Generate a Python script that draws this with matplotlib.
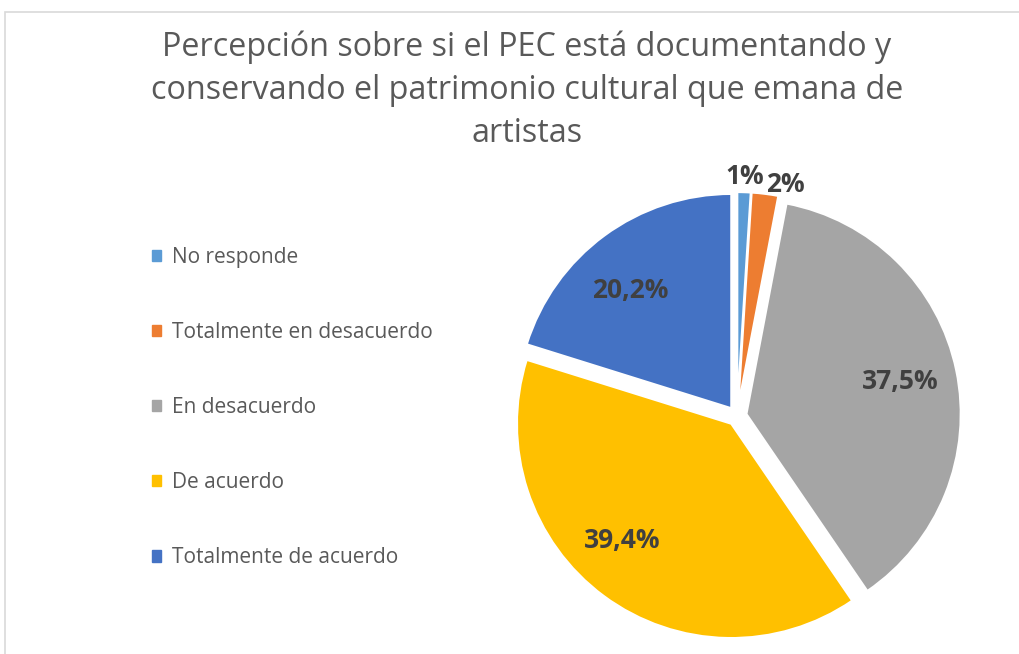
import numpy as np
import matplotlib.pyplot as plt
from matplotlib.patches import Rectangle

categories = ["No responde", "Totalmente en desacuerdo", "En desacuerdo",
              "De acuerdo", "Totalmente de acuerdo"]
values = [1.0, 2.0, 37.5, 39.4, 20.2]
pct_labels = ["1%", "2%", "37,5%", "39,4%", "20,2%"]
colors = ["#5B9BD5", "#ED7D31", "#A5A5A5", "#FFC000", "#4472C4"]
title = ("Percepción sobre si el PEC está documentando y\n"
         "conservando el patrimonio cultural que emana de\nartistas")

plt.rcParams['font.family'] = ['Open Sans', 'DejaVu Sans']

W, H = 1019, 654
fig = plt.figure(figsize=(W / 100, H / 100), dpi=100)

# chart border (light gray, cut by image edges)
fig.patches.append(Rectangle((5 / W, -0.1), 1.2, 1 - 12 / H + 0.1,
                             transform=fig.transFigure, fill=False,
                             edgecolor="#D9D9D9", linewidth=1.2))

fig.text(527 / W, 1 - 90 / H, title, ha="center", va="center",
         fontsize=23.3, color="#595959", linespacing=1.4)

# pie
side = 480
cx, cy = 737, 416
ax = fig.add_axes([(cx - side / 2) / W, 1 - (cy + side / 2) / H, side / W, side / H])
lim = 1.12
explode = [0.045] * len(values)
wedges, _ = ax.pie(values, colors=colors, startangle=90, counterclock=False,
                   explode=explode, wedgeprops=dict(edgecolor="white", linewidth=1.5),
                   frame=True)
ax.set_xlim(-lim, lim)
ax.set_ylim(-lim, lim)
ax.set_aspect("equal")
ax.axis("off")

label_r = [1.12, 1.09, 0.78, 0.79, 0.77]
label_ha = ["center", "left", "center", "center", "center"]
label_shift = [0, 0, 0, -6, 4]  # degrees
for w, lab, r, ha, s in zip(wedges, pct_labels, label_r, label_ha, label_shift):
    ang = np.deg2rad((w.theta1 + w.theta2) / 2 + s)
    ax.text(r * np.cos(ang), r * np.sin(ang), lab, ha=ha, va="center",
            fontsize=19, fontweight="bold", color="#404040")

# legend
handles = [Rectangle((0, 0), 1, 1, color=c) for c in colors]
fig.legend(handles, categories, loc="upper left",
           bbox_to_anchor=(133 / W, 1 - 228 / H), frameon=False,
           fontsize=15, labelcolor="#595959", labelspacing=2.6,
           handlelength=0.45, handleheight=0.45, handletextpad=0.5)

fig.savefig("out.png", dpi=100)
